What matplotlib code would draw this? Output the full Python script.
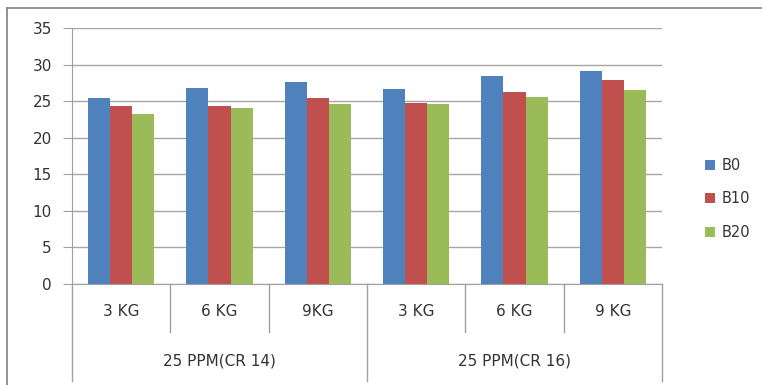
import numpy as np
import matplotlib
matplotlib.use("Agg")
import matplotlib.pyplot as plt
from matplotlib.lines import Line2D

# dados do grafico
categorias = ["3 KG", "6 KG", "9KG", "3 KG", "6 KG", "9 KG"]
grupos = ["25 PPM(CR 14)", "25 PPM(CR 16)"]
series = ["B0", "B10", "B20"]
b0 = [25.5, 26.8, 27.7, 26.7, 28.5, 29.2]
b10 = [24.4, 24.4, 25.4, 24.8, 26.3, 27.9]
b20 = [23.2, 24.1, 24.7, 24.7, 25.6, 26.5]
cores = ["#4F81BD", "#C0504D", "#9BBB59"]

W, H = 763, 385
fig = plt.figure(figsize=(W / 100, H / 100), dpi=100)
ax = fig.add_axes([72 / W, (H - 283.7) / H, (662 - 72) / W, 255.3 / H])

x = np.arange(len(categorias))
largura = 0.225
for i, (vals, nome) in enumerate(zip([b0, b10, b20], series)):
    ax.bar(x + (i - 1) * largura, vals, largura, color=cores[i], label=nome, zorder=3)

ax.set_xlim(-0.5, len(categorias) - 0.5)
ax.set_ylim(0, 35)
ax.set_yticks(range(0, 36, 5))
ax.yaxis.grid(True, color="#a6a6a6", linewidth=1.0, zorder=0)
ax.set_axisbelow(True)
for s in ["top", "right"]:
    ax.spines[s].set_visible(False)
ax.spines["left"].set_color("#a0a0a0")
ax.spines["bottom"].set_color("#a0a0a0")
ax.tick_params(axis="y", length=6.5, color="#a0a0a0", labelsize=11, pad=8,
               labelcolor="#333333")
ax.set_xticks([])

# eixo x em dois niveis
trans = ax.get_xaxis_transform()
px = 1 / 255.3
for b in np.arange(-0.5, len(categorias), 1.0):
    comprimento = 97 if b in (-0.5, 2.5, 5.5) else 48
    ax.plot([b, b], [0, -comprimento * px], transform=trans, color="#a0a0a0",
            linewidth=1.0, clip_on=False)
for xi, c in zip(x, categorias):
    ax.text(xi, -28 * px, c, transform=trans, ha="center", va="center",
            fontsize=11, color="#333333")
for g, nome in enumerate(grupos):
    ax.text(g * 3 + 1, -77 * px, nome, transform=trans, ha="center", va="center",
            fontsize=11, color="#333333")

fig.legend(loc="center left", bbox_to_anchor=(692 / W, 1 - 199 / H), frameon=False,
           handlelength=0.7, handleheight=0.7, handletextpad=0.4, labelspacing=1.25,
           fontsize=10.5, labelcolor="#333333")

# moldura do grafico (so esquerda e topo)
fig.add_artist(Line2D([7 / W, 7 / W], [0, 1 - 8 / H], color="#808080", linewidth=1.2))
fig.add_artist(Line2D([7 / W, (W - 2) / W], [1 - 8 / H, 1 - 8 / H], color="#808080",
                      linewidth=1.2))

fig.savefig("out.png", dpi=100)
